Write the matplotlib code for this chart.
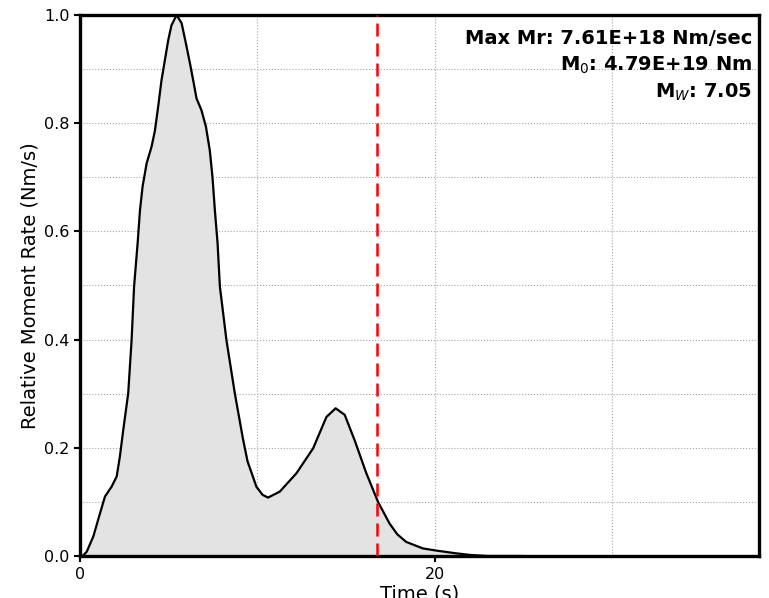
import matplotlib
matplotlib.use("Agg")
import matplotlib.pyplot as plt
from matplotlib.ticker import MultipleLocator

# Data (time in s, relative moment rate)
time_s = [0.0, 0.15, 0.38, 0.75, 1.13, 1.41, 1.78, 2.07, 2.25, 2.44, 2.72,
          2.91, 3.05, 3.25, 3.38, 3.53, 3.76, 4.04, 4.23, 4.41, 4.60, 4.79,
          4.98, 5.16, 5.45, 5.73, 5.97, 6.20, 6.38, 6.57, 6.85, 7.10, 7.32,
          7.47, 7.61, 7.76, 7.89, 8.26, 8.73, 9.2, 9.45, 9.95, 10.3, 10.61,
          11.27, 12.21, 13.15, 13.9, 14.42, 14.93, 15.49, 16.15, 16.81, 17.46,
          17.9, 18.4, 19.34, 20.1, 21.2, 22.0, 23.0, 25.0]
moment_rate = [0.0, 0.0, 0.008, 0.036, 0.079, 0.110, 0.128, 0.147, 0.184,
               0.233, 0.301, 0.399, 0.498, 0.578, 0.638, 0.683, 0.726, 0.757,
               0.787, 0.831, 0.880, 0.917, 0.954, 0.981, 1.0, 0.985, 0.948,
               0.911, 0.880, 0.846, 0.824, 0.794, 0.750, 0.701, 0.638, 0.578,
               0.498, 0.399, 0.301, 0.215, 0.175, 0.128, 0.113, 0.108, 0.119,
               0.153, 0.199, 0.257, 0.273, 0.261, 0.214, 0.153, 0.100, 0.060,
               0.040, 0.026, 0.014, 0.010, 0.005, 0.002, 0.0, 0.0]
duration_s = 16.77
info_lines = ["Max Mr: 7.61E+18 Nm/sec", "M$_0$: 4.79E+19 Nm", "M$_W$: 7.05"]
x_max = 38.3

fig = plt.figure(figsize=(7.69, 5.98), dpi=100)
ax = fig.add_axes([80/769, 1 - 556/598, 679/769, 541/598])

ax.fill_between(time_s, moment_rate, 0, color="#e3e3e3", zorder=1)
ax.plot(time_s, moment_rate, color="black", lw=1.6, zorder=3,
        solid_joinstyle="round")
ax.axvline(duration_s, color="red", ls=(0, (5.2, 2.8)), lw=1.8, zorder=4)

ax.set_xlim(0, x_max)
ax.set_ylim(0, 1.0)
ax.xaxis.set_major_locator(MultipleLocator(20))
ax.xaxis.set_minor_locator(MultipleLocator(10))
ax.yaxis.set_major_locator(MultipleLocator(0.2))
ax.yaxis.set_minor_locator(MultipleLocator(0.1))
ax.grid(which="both", color="0.65", ls=":", lw=0.8, zorder=0)
ax.set_axisbelow(True)

for sp in ax.spines.values():
    sp.set_linewidth(2.4)
ax.tick_params(which="major", length=4, width=1.5, labelsize=11.5,
               colors="black")
ax.tick_params(which="minor", length=0)
ax.tick_params(axis="x", pad=4)

ax.set_xlabel("Time (s)", fontsize=14, labelpad=2)
ax.set_ylabel("Relative Moment Rate (Nm/s)", fontsize=14, labelpad=3.5)

ys = [0.947, 0.8965, 0.848]
for txt, y in zip(info_lines, ys):
    ax.text(0.9897, y, txt, transform=ax.transAxes, ha="right", va="baseline",
            fontsize=14, fontweight="bold", zorder=5)

fig.savefig("out.png", dpi=100)
